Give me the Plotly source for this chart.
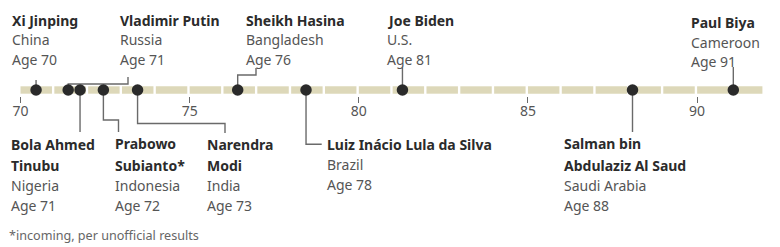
import plotly.graph_objects as go

# ---------------- data ----------------
name_lines = [
    ["Xi Jinping"],
    ["Vladimir Putin"],
    ["Bola Ahmed", "Tinubu"],
    ["Prabowo", "Subianto*"],
    ["Narendra", "Modi"],
    ["Sheikh Hasina"],
    ["Luiz Inácio Lula da Silva"],
    ["Joe Biden"],
    ["Salman bin", "Abdulaziz Al Saud"],
    ["Paul Biya"],
]
countries = ["China", "Russia", "Nigeria", "Indonesia", "India", "Bangladesh",
             "Brazil", "U.S.", "Saudi Arabia", "Cameroon"]
age_labels = [70, 71, 71, 72, 73, 76, 78, 81, 88, 91]
exact_ages = [70.46, 71.41, 71.76, 72.45, 73.46, 76.42, 78.44, 81.29, 88.09, 91.07]
tick_values = [70, 75, 80, 85, 90]
bar_years = list(range(70, 92))
footnote = "*incoming, per unofficial results"

# ---------------- layout helpers ----------------
W, H = 780, 247
X0, X1 = 69.394, 92.45
def px2x(px):
    return X0 + px / W * (X1 - X0)

FONT = "Noto Sans"
DARK = "#2b2b2b"
MID = "#555555"
LINE = "#6a6a6a"
AXIS_Y = 90
PAD = 3  # annotation inner padding

label_layout = [
    dict(side="top", left=13, elbow=None, end=80, row0=20),
    dict(side="top", left=121, elbow=(84, 128), end=77, row0=20),
    dict(side="bottom", left=12, elbow=None, end=132, row0=144),
    dict(side="bottom", left=116, elbow=(120, 118.5), end=132, row0=143.5),
    dict(side="bottom", left=208, elbow=(123.5, 225), end=133, row0=144),
    dict(side="top", left=247, elbow=(75, 256), end=68, row0=20),
    dict(side="bottom", left=328, elbow="lula", end=144.3, row0=144.3),
    dict(side="top", left=388, elbow=None, end=68, row0=20),
    dict(side="bottom", left=565, elbow=None, end=132, row0=143.5),
    dict(side="top", left=692, elbow=None, end=67, row0=22.5),
]

fig = go.Figure()
shapes = []
for yr in bar_years:
    shapes.append(dict(type="rect", xref="x", yref="y", x0=yr, x1=yr + 0.93,
                       y0=AXIS_Y - 3.7, y1=AXIS_Y + 3.7,
                       fillcolor="#ddd8b9", line=dict(width=0), layer="below"))

annotations = []
for i, age in enumerate(exact_ages):
    L = label_layout[i]
    if L["elbow"] is None:
        xs = [age, age]
        ys = [AXIS_Y, L["end"]]
    elif L["elbow"] == "lula":
        xs = [age, age, px2x(321.7)]
        ys = [AXIS_Y, L["end"], L["end"]]
    else:
        ey, ex = L["elbow"]
        xs = [age, age, px2x(ex), px2x(ex)]
        ys = [AXIS_Y, ey, ey, L["end"]]
    fig.add_trace(go.Scatter(x=xs, y=ys, mode="lines",
                             line=dict(color=LINE, width=1.4),
                             hoverinfo="skip", showlegend=False))
    rows = [(f"<b>{n}</b>", DARK) for n in name_lines[i]] + \
           [(countries[i], MID), (f"Age {age_labels[i]}", MID)]
    y = L["row0"]
    for k, (txt, col) in enumerate(rows):
        annotations.append(dict(x=px2x(L["left"] - PAD), y=y, xref="x", yref="y",
                                text=txt, showarrow=False, xanchor="left",
                                yanchor="middle", font=dict(family=FONT, size=14, color=col)))
        if k + 1 < len(rows) and rows[k + 1][1] == DARK:
            y += 21.5
        else:
            y += 20 if L["side"] == "bottom" else 19.7

fig.add_trace(go.Scatter(x=exact_ages, y=[AXIS_Y] * len(exact_ages), mode="markers",
                         marker=dict(size=11.5, color="#2a2a2a"),
                         hoverinfo="skip", showlegend=False))

annotations.append(dict(x=px2x(10 - PAD), y=235, xref="x", yref="y", text=footnote,
                        showarrow=False, xanchor="left", yanchor="middle",
                        font=dict(family=FONT, size=12.6, color="#666666")))

fig.update_layout(
    width=W, height=H, margin=dict(l=0, r=0, t=0, b=0),
    paper_bgcolor="white", plot_bgcolor="white",
    shapes=shapes, annotations=annotations, showlegend=False,
    xaxis=dict(range=[X0, X1], tickvals=tick_values, ticks="outside", ticklen=6,
               tickwidth=1.3, tickcolor=LINE, showgrid=False, zeroline=False,
               showline=False, anchor="free", position=1 - 95.5 / H,
               ticklabelstandoff=-3,
               tickfont=dict(family=FONT, size=14, color=MID), fixedrange=True),
    yaxis=dict(range=[H, 0], visible=False, fixedrange=True),
)
fig.write_html("out.html")
